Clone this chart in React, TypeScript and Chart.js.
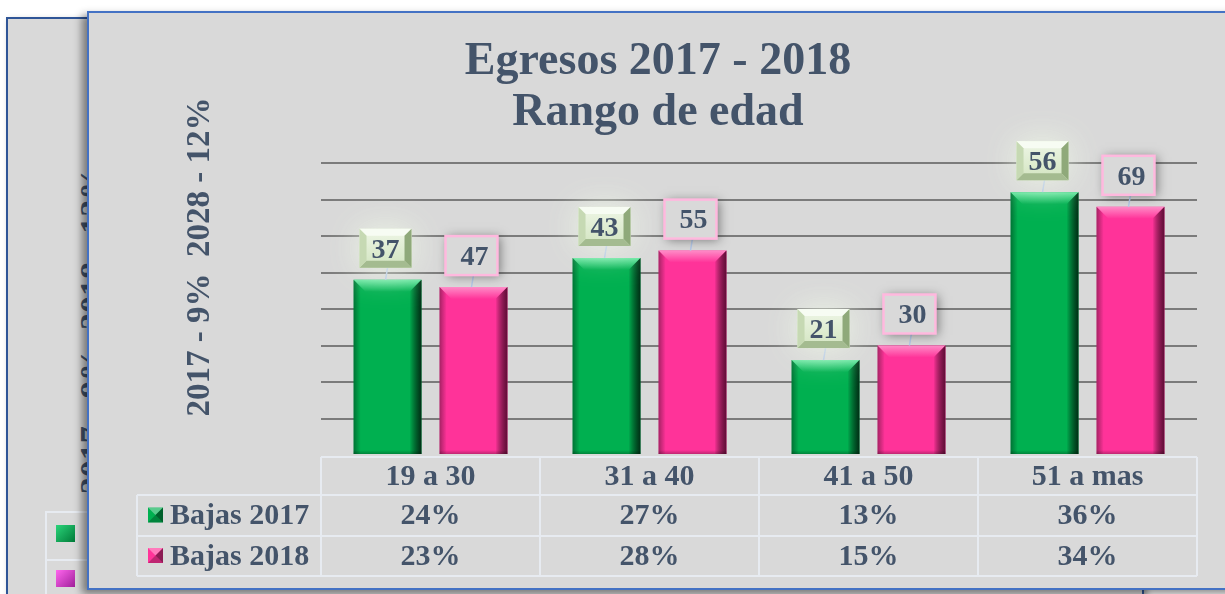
import React, { useEffect, useRef } from "react";
import { Chart, registerables } from "chart.js";

Chart.register(...registerables);

const titleLines = ["Egresos 2017 - 2018", "Rango de edad"];
const sideTitle = "2017 - 9%  2028 - 12%";
const backSideTitle = "2017 - 9%  2018 - 12%";
const categories = ["19 a 30", "31 a 40", "41 a 50", "51 a mas"];
const seriesNames = ["Bajas 2017", "Bajas 2018"];
const pct2017 = [24, 27, 13, 36];
const pct2018 = [23, 28, 15, 34];
const count2017 = [37, 43, 21, 56];
const count2018 = [47, 55, 30, 69];
const yMin = 0;
const yMax = 40;
const yStep = 5;

const SERIF = '"Liberation Serif", "Times New Roman", serif';
const TEXT = "#44546a";
const GREEN = "#00b050";
const PINK = "#ff3399";

const counts = [count2017, count2018];
const pcts = [pct2017, pct2018];
const seriesColors = [GREEN, PINK];
const bevelLight = ["#6ce8a4", "#ff8cc8"];
const bevelDark = ["rgba(0,40,18,0.95)", "rgba(90,10,50,0.95)"];

function drawBevelRect(ctx: CanvasRenderingContext2D, l: number, t: number, r: number, b: number, bv: number, si: number) {
  const gt = ctx.createLinearGradient(0, t, 0, t + bv);
  gt.addColorStop(0, bevelLight[si]);
  gt.addColorStop(1, seriesColors[si]);
  ctx.fillStyle = gt;
  ctx.beginPath();
  ctx.moveTo(l, t);
  ctx.lineTo(r, t);
  ctx.lineTo(r - bv, t + bv);
  ctx.lineTo(l + bv, t + bv);
  ctx.closePath();
  ctx.fill();
  const gr = ctx.createLinearGradient(r - bv, 0, r, 0);
  gr.addColorStop(0, "rgba(0,0,0,0)");
  gr.addColorStop(1, bevelDark[si]);
  ctx.fillStyle = gr;
  ctx.beginPath();
  ctx.moveTo(r, t);
  ctx.lineTo(r, b);
  ctx.lineTo(r - bv, b);
  ctx.lineTo(r - bv, t + bv);
  ctx.closePath();
  ctx.fill();
  const gl = ctx.createLinearGradient(l, 0, l + bv * 0.6, 0);
  gl.addColorStop(0, "rgba(0,0,0,0.35)");
  gl.addColorStop(1, "rgba(0,0,0,0)");
  ctx.fillStyle = gl;
  ctx.beginPath();
  ctx.moveTo(l, t);
  ctx.lineTo(l + bv * 0.6, t + bv * 0.6);
  ctx.lineTo(l + bv * 0.6, b);
  ctx.lineTo(l, b);
  ctx.closePath();
  ctx.fill();
  const gb = ctx.createLinearGradient(0, b - 4, 0, b);
  gb.addColorStop(0, "rgba(0,0,0,0)");
  gb.addColorStop(1, "rgba(0,0,0,0.25)");
  ctx.fillStyle = gb;
  ctx.fillRect(l, b - 4, r - l, 4);
}

function drawKey(ctx: CanvasRenderingContext2D, x: number, y: number, s: number, si: number) {
  ctx.fillStyle = seriesColors[si];
  ctx.fillRect(x, y, s, s);
  const cx = x + s / 2, cy = y + s / 2;
  ctx.fillStyle = "rgba(255,255,255,0.35)";
  ctx.beginPath(); ctx.moveTo(x, y); ctx.lineTo(x + s, y); ctx.lineTo(cx, cy); ctx.closePath(); ctx.fill();
  ctx.fillStyle = "rgba(0,0,0,0.45)";
  ctx.beginPath(); ctx.moveTo(x + s, y); ctx.lineTo(x + s, y + s); ctx.lineTo(cx, cy); ctx.closePath(); ctx.fill();
  ctx.fillStyle = "rgba(0,0,0,0.25)";
  ctx.beginPath(); ctx.moveTo(x, y + s); ctx.lineTo(x + s, y + s); ctx.lineTo(cx, cy); ctx.closePath(); ctx.fill();
}

const decorPlugin = {
  id: "decor",
  afterDatasetsDraw(chart: any) {
    const ctx: CanvasRenderingContext2D = chart.ctx;
    ctx.save();
    chart.data.datasets.forEach((_: any, di: number) => {
      const meta = chart.getDatasetMeta(di);
      meta.data.forEach((bar: any) => {
        const p = bar.getProps(["x", "y", "base", "width"], true);
        const l = p.x - p.width / 2, r = p.x + p.width / 2;
        drawBevelRect(ctx, l, p.y, r, p.base, 12, di);
      });
    });
    ctx.font = `bold 28px ${SERIF}`;
    chart.data.datasets.forEach((_: any, di: number) => {
      const meta = chart.getDatasetMeta(di);
      meta.data.forEach((bar: any, i: number) => {
        const p = bar.getProps(["x", "y"], true);
        const txt = String(counts[di][i]);
        const tw = ctx.measureText(txt).width;
        const w = tw + 24, h = 39;
        const bx = p.x - w / 2 - 2;
        const bb = p.y - 12;
        const by = bb - h;
        ctx.strokeStyle = "#b4c7e7";
        ctx.lineWidth = 1.5;
        ctx.beginPath(); ctx.moveTo(p.x, bb); ctx.lineTo(p.x - 2, p.y); ctx.stroke();
        if (di === 0) {
          ctx.save();
          ctx.shadowColor = "rgba(238,248,230,0.95)";
          ctx.shadowBlur = 34;
          ctx.fillStyle = "#dcebcd";
          ctx.fillRect(bx, by, w, h);
          ctx.restore();
          const bv = 7;
          const g = ctx.createLinearGradient(0, by, 0, by + h);
          g.addColorStop(0, "#eef6e6");
          g.addColorStop(1, "#d2e4c0");
          ctx.fillStyle = g;
          ctx.fillRect(bx, by, w, h);
          ctx.fillStyle = "#f7fcf3";
          ctx.beginPath(); ctx.moveTo(bx, by); ctx.lineTo(bx + w, by); ctx.lineTo(bx + w - bv, by + bv); ctx.lineTo(bx + bv, by + bv); ctx.closePath(); ctx.fill();
          ctx.fillStyle = "#8fa97a";
          ctx.beginPath(); ctx.moveTo(bx + w, by); ctx.lineTo(bx + w, by + h); ctx.lineTo(bx + w - bv, by + h - bv); ctx.lineTo(bx + w - bv, by + bv); ctx.closePath(); ctx.fill();
          ctx.fillStyle = "#a4bb90";
          ctx.beginPath(); ctx.moveTo(bx, by + h); ctx.lineTo(bx + w, by + h); ctx.lineTo(bx + w - bv, by + h - bv); ctx.lineTo(bx + bv, by + h - bv); ctx.closePath(); ctx.fill();
          ctx.fillStyle = "#c6d9b3";
          ctx.beginPath(); ctx.moveTo(bx, by); ctx.lineTo(bx + bv, by + bv); ctx.lineTo(bx + bv, by + h - bv); ctx.lineTo(bx, by + h); ctx.closePath(); ctx.fill();
        } else {
          ctx.save();
          ctx.shadowColor = "rgba(0,0,0,0.45)";
          ctx.shadowBlur = 10;
          ctx.shadowOffsetX = 3;
          ctx.shadowOffsetY = 1;
          ctx.fillStyle = "#d9d9d9";
          ctx.fillRect(bx, by, w, h);
          ctx.restore();
          ctx.strokeStyle = "#ffb8de";
          ctx.lineWidth = 2.5;
          ctx.strokeRect(bx, by, w, h);
        }
        ctx.fillStyle = TEXT;
        ctx.textAlign = "center";
        ctx.textBaseline = "middle";
        ctx.fillText(txt, bx + w / 2 + (di === 1 ? 3 : 0), by + h / 2 + 2);
      });
    });
    ctx.restore();
  },
  afterDraw(chart: any) {
    const ctx: CanvasRenderingContext2D = chart.ctx;
    const area = chart.chartArea;
    const xs = chart.scales.x;
    ctx.save();
    ctx.fillStyle = TEXT;
    ctx.font = `bold 46px ${SERIF}`;
    ctx.textAlign = "center";
    ctx.textBaseline = "alphabetic";
    ctx.fillText(titleLines[0], 658, 74);
    ctx.fillText(titleLines[1], 658, 125);
    ctx.save();
    ctx.translate(200, 257);
    ctx.rotate(-Math.PI / 2);
    ctx.font = `bold 33px ${SERIF}`;
    ctx.textBaseline = "middle";
    ctx.fillText(sideTitle, 0, 0);
    ctx.restore();
    const catW = (area.right - area.left) / categories.length;
    const rows = [area.bottom + 2, area.bottom + 40, area.bottom + 81, area.bottom + 121];
    const legL = 137;
    ctx.strokeStyle = "#e7ebf1";
    ctx.lineWidth = 2;
    ctx.beginPath();
    ctx.moveTo(area.left, rows[0]); ctx.lineTo(area.right, rows[0]);
    for (let r = 1; r < rows.length; r++) { ctx.moveTo(legL, rows[r]); ctx.lineTo(area.right, rows[r]); }
    ctx.moveTo(legL, rows[1]); ctx.lineTo(legL, rows[3]);
    for (let c = 0; c <= categories.length; c++) {
      const x = area.left + c * catW;
      ctx.moveTo(x, rows[0]); ctx.lineTo(x, rows[3]);
    }
    ctx.stroke();
    ctx.fillStyle = TEXT;
    ctx.font = `bold 30px ${SERIF}`;
    ctx.textAlign = "center";
    ctx.textBaseline = "middle";
    categories.forEach((c, i) => {
      const cx = xs.getPixelForValue(i);
      ctx.fillText(c, cx, (rows[0] + rows[1]) / 2 + 1);
      pcts.forEach((arr, si) => {
        ctx.fillText(`${arr[i]}%`, cx, (rows[si + 1] + rows[si + 2]) / 2 + 1);
      });
    });
    seriesNames.forEach((n, si) => {
      const cy = (rows[si + 1] + rows[si + 2]) / 2;
      drawKey(ctx, 148, cy - 8, 15, si);
      ctx.fillStyle = TEXT;
      ctx.textAlign = "left";
      ctx.fillText(n, 170, cy + 1);
    });
    ctx.restore();
  },
};

export default function App() {
  const ref = useRef<HTMLCanvasElement | null>(null);
  useEffect(() => {
    if (!ref.current) return;
    const chart = new Chart(ref.current, {
      type: "bar",
      data: {
        labels: categories,
        datasets: [
          { label: seriesNames[0], data: pct2017, backgroundColor: GREEN, borderWidth: 0 },
          { label: seriesNames[1], data: pct2018, backgroundColor: PINK, borderWidth: 0 },
        ],
      },
      options: {
        responsive: false,
        animation: false,
        devicePixelRatio: 1,
        layout: { padding: { left: 321, right: 28, top: 163, bottom: 139 } },
        datasets: { bar: { categoryPercentage: 0.785, barPercentage: 0.79 } },
        scales: {
          x: { display: false },
          y: {
            min: yMin,
            max: yMax,
            ticks: { display: false, stepSize: yStep },
            border: { display: false },
            grid: {
              drawTicks: false,
              lineWidth: 2,
              color: (c: any) => (c.tick && c.tick.value === 0 ? "rgba(0,0,0,0)" : "#7b7b7b"),
            },
            afterFit: (s: any) => { s.width = 0; },
          },
        },
        plugins: { legend: { display: false }, title: { display: false }, tooltip: { enabled: false } },
      },
      plugins: [decorPlugin],
    } as any);
    return () => chart.destroy();
  }, []);

  return (
    <div style={{ position: "fixed", left: 0, top: 0, width: 1225, height: 594, background: "#ffffff", overflow: "hidden" }}>
      <div style={{ position: "absolute", left: 6, top: 17, width: 1134, height: 600, background: "#d9d9d9", border: "2px solid #2f5597", boxShadow: "3px 3px 6px rgba(0,0,0,0.35)" }} />
      <div style={{ position: "absolute", left: 45, top: 511, width: 60, height: 46, borderTop: "2px solid #e7ebf1", borderLeft: "2px solid #e7ebf1", borderBottom: "2px solid #e7ebf1" }} />
      <div style={{ position: "absolute", left: 45, top: 557, width: 60, height: 46, borderLeft: "2px solid #e7ebf1" }} />
      <div style={{ position: "absolute", left: 56, top: 525, width: 19, height: 17, background: "linear-gradient(135deg, #2bd47a, #007a38)" }} />
      <div style={{ position: "absolute", left: 56, top: 570, width: 19, height: 17, background: "linear-gradient(135deg, #ff66ee, #a0209a)" }} />
      <div style={{ position: "absolute", left: -78, top: 310, width: 340, height: 40, lineHeight: "40px", textAlign: "center", transform: "rotate(-90deg)", fontFamily: SERIF, fontWeight: "bold", fontSize: 34, color: TEXT, whiteSpace: "pre" }}>{backSideTitle}</div>
      <div style={{ position: "absolute", left: 87, top: 11, width: 1160, height: 575, background: "#d9d9d9", border: "2px solid #4472c4", boxShadow: "-5px 4px 8px rgba(0,0,0,0.45)" }} />
      <canvas ref={ref} width={1225} height={594} style={{ position: "absolute", left: 0, top: 0, width: 1225, height: 594 }} />
    </div>
  );
}
